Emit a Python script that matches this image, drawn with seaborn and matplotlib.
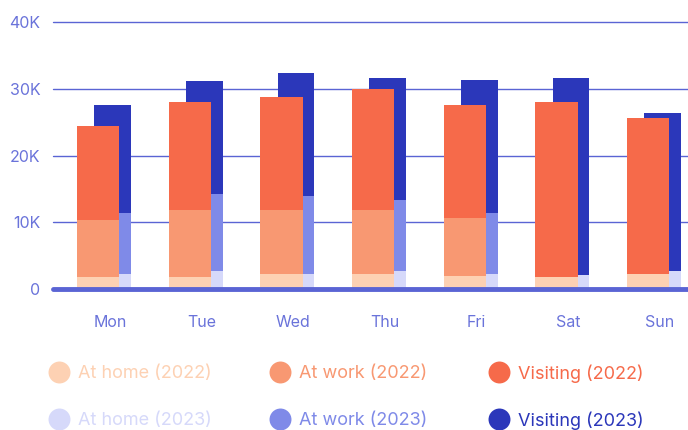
import numpy as np
import pandas as pd
import matplotlib
matplotlib.use("Agg")
import matplotlib.pyplot as plt
import seaborn as sns
from matplotlib.lines import Line2D

days = ["Mon", "Tue", "Wed", "Thu", "Fri", "Sat", "Sun"]

# segment values (people), stacked home -> work -> visiting
home_2022 = [1800, 1800, 2300, 2300, 2000, 1800, 2300]
work_2022 = [8600, 10100, 9600, 9600, 8700, 0, 0]
visiting_2022 = [14000, 16100, 16900, 18100, 16900, 26200, 23300]

home_2023 = [2300, 2700, 2300, 2700, 2300, 2100, 2700]
work_2023 = [9100, 11500, 11600, 10700, 9100, 0, 0]
visiting_2023 = [16200, 17000, 18500, 18200, 19900, 29500, 23700]

yticks = [0, 10000, 20000, 30000, 40000]
ytick_labels = ["0", "10K", "20K", "30K", "40K"]

colors = {
    "At home (2022)": "#fdd1b3",
    "At work (2022)": "#f89872",
    "Visiting (2022)": "#f66a4a",
    "At home (2023)": "#d6d9fa",
    "At work (2023)": "#7f8ae8",
    "Visiting (2023)": "#2b37ba",
}
grid_col = "#5a64d4"
label_col = "#6a73da"

sns.set_theme(style="white")
plt.rcParams["font.family"] = ["Inter", "DejaVu Sans"]

fig = plt.figure(figsize=(6.88, 4.30), dpi=100)
ax = fig.add_axes([53 / 688, 1 - 289 / 430, 1 - 53 / 688, 267 / 430])

idx = np.arange(len(days))


def draw_year(home, work, visiting, year, offset, width):
    h = np.array(home)
    w = h + np.array(work)
    v = w + np.array(visiting)
    for name, vals in [("Visiting", v), ("At work", w), ("At home", h)]:
        df = pd.DataFrame({"x": idx + offset, "y": vals})
        sns.barplot(data=df, x="x", y="y", native_scale=True, width=width,
                    color=colors[f"{name} ({year})"], saturation=1,
                    linewidth=0, ax=ax, zorder=3)


draw_year(home_2023, work_2023, visiting_2023, 2023, 0.03, 0.40)
draw_year(home_2022, work_2022, visiting_2022, 2022, -0.13, 0.46)

ax.set_xlim(-0.622, 6.305)
ax.set_ylim(0, 40000)
ax.set_xticks(idx)
ax.set_xticklabels(days)
ax.set_yticks(yticks)
ax.set_yticklabels(ytick_labels)
ax.set_xlabel("")
ax.set_ylabel("")
ax.tick_params(axis="x", length=0, pad=19, labelsize=11.5, colors=label_col)
ax.tick_params(axis="y", length=0, pad=9, labelsize=11.5, colors=label_col)
for s in ax.spines.values():
    s.set_visible(False)
for t in yticks[1:]:
    ax.axhline(t, color=grid_col, lw=1, zorder=1, clip_on=False)
ax.axhline(0, color=grid_col, lw=3.5, zorder=5, clip_on=False)

# legend: 2022 on the first row, 2023 on the second
legend_rows = [["At home (2022)", "At work (2022)", "Visiting (2022)"],
               ["At home (2023)", "At work (2023)", "Visiting (2023)"]]
col_x = [59, 280, 499]
row_y = [372, 419]
for r, row in enumerate(legend_rows):
    for c, name in enumerate(row):
        fx = col_x[c] / 688
        fy = 1 - row_y[r] / 430
        fig.add_artist(Line2D([fx], [fy], transform=fig.transFigure, marker="o",
                              ls="", markersize=15.8, markeredgewidth=0,
                              markerfacecolor=colors[name]))
        fig.text(fx + 19 / 688, fy - 1.5 / 430, name, color=colors[name],
                 fontsize=13, va="center", ha="left")

fig.savefig("out.png", dpi=100)
